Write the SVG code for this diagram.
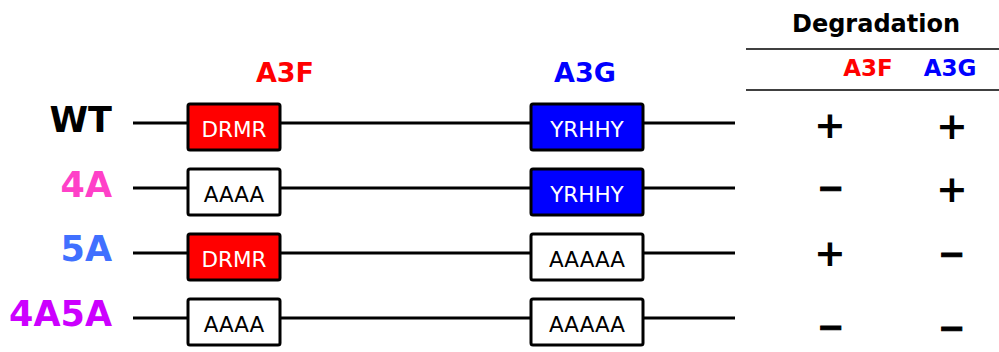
<svg xmlns="http://www.w3.org/2000/svg" width="999" height="352" viewBox="0 0 999 352">
<style>
.lbl{font-family:"DejaVu Sans",Verdana,sans-serif;font-weight:bold;font-size:35px;text-anchor:end}
.hdr{font-family:"DejaVu Sans",Verdana,sans-serif;font-weight:bold;text-anchor:middle}
.box{stroke:#000;stroke-width:3}
.bt{font-family:"DejaVu Sans",Verdana,sans-serif;font-size:21.5px;text-anchor:middle}
.line{stroke:#000;stroke-width:3;fill:none}
.sym{font-family:"DejaVu Sans",sans-serif;font-weight:bold;text-anchor:middle;fill:#000}
.minus{stroke:#000;stroke-width:1.2}
.rule{stroke:#000;stroke-width:1.5}
</style>
<rect width="999" height="352" fill="#fff"/>
<g id="header">
<text class="hdr" x="876" y="32" font-size="24">Degradation</text>
<line class="rule" x1="746" y1="49" x2="999" y2="49"/>
<line class="rule" x1="746" y1="90" x2="999" y2="90"/>
<text class="hdr" x="868" y="76" font-size="23" fill="#ff0000">A3F</text>
<text class="hdr" x="950" y="76" font-size="23" fill="#0000ff">A3G</text>
<text class="hdr" x="285" y="82" font-size="27" fill="#ff0000">A3F</text>
<text class="hdr" x="585" y="82" font-size="27" fill="#0000ff">A3G</text>
</g>
<g id="connectors">
<line class="line" x1="133" y1="123" x2="735" y2="123"/>
<line class="line" x1="133" y1="188" x2="735" y2="188"/>
<line class="line" x1="133" y1="253" x2="735" y2="253"/>
<line class="line" x1="133" y1="318" x2="735" y2="318"/>
</g>
<g id="row-WT">
<text class="lbl" x="112" y="132" fill="#000">WT</text>
<g id="WT-A3F"><rect class="box" x="188" y="104" width="92" height="46" rx="2" fill="#ff0000"/><text class="bt" x="234" y="137" fill="#fff">DRMR</text></g>
<g id="WT-A3G"><rect class="box" x="531" y="104" width="112" height="46" rx="2" fill="#0000ff"/><text class="bt" x="587" y="137" fill="#fff">YRHHY</text></g>
<text class="sym" x="830" y="138" font-size="38">+</text>
<text class="sym" x="952" y="139" font-size="38">+</text>
</g>
<g id="row-4A">
<text class="lbl" x="112" y="197" fill="#ff40c8">4A</text>
<g id="4A-A3F"><rect class="box" x="188" y="169" width="92" height="46" rx="2" fill="#fff"/><text class="bt" x="234" y="202" fill="#000">AAAA</text></g>
<g id="4A-A3G"><rect class="box" x="531" y="169" width="112" height="46" rx="2" fill="#0000ff"/><text class="bt" x="587" y="202" fill="#fff">YRHHY</text></g>
<text class="sym minus" x="831" y="199" font-size="32">−</text>
<text class="sym" x="952" y="202" font-size="38">+</text>
</g>
<g id="row-5A">
<text class="lbl" x="112" y="261" fill="#4070ff">5A</text>
<g id="5A-A3F"><rect class="box" x="188" y="234" width="92" height="46" rx="2" fill="#ff0000"/><text class="bt" x="234" y="267" fill="#fff">DRMR</text></g>
<g id="5A-A3G"><rect class="box" x="531" y="234" width="112" height="46" rx="2" fill="#fff"/><text class="bt" x="587" y="267" fill="#000">AAAAA</text></g>
<text class="sym" x="830" y="266" font-size="38">+</text>
<text class="sym minus" x="952" y="265" font-size="32">−</text>
</g>
<g id="row-4A5A">
<text class="lbl" x="112" y="326" fill="#cc00ff">4A5A</text>
<g id="4A5A-A3F"><rect class="box" x="188" y="299" width="92" height="46" rx="2" fill="#fff"/><text class="bt" x="234" y="332" fill="#000">AAAA</text></g>
<g id="4A5A-A3G"><rect class="box" x="531" y="299" width="112" height="46" rx="2" fill="#fff"/><text class="bt" x="587" y="332" fill="#000">AAAAA</text></g>
<text class="sym minus" x="831" y="338" font-size="32">−</text>
<text class="sym minus" x="952" y="339" font-size="32">−</text>
</g>
</svg>
